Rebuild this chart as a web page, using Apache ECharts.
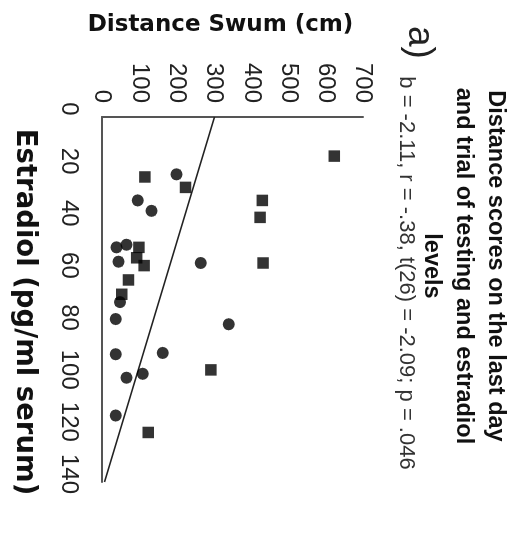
<!DOCTYPE html>
<html>
<head>
<meta charset="utf-8">
<script src="https://cdn.jsdelivr.net/npm/echarts@6/dist/echarts.min.js"></script>
<style>
  html, body { margin: 0; padding: 0; width: 517px; height: 536px; overflow: hidden; background: #fff; }
  /* The figure is laid out upright, then turned a quarter turn clockwise onto the page */
  #chart {
    position: absolute; left: 0; top: 0;
    width: 536px; height: 517px;
    transform-origin: 0 0;
    transform: translate(517px, 0) rotate(90deg);
  }
</style>
</head>
<body>
<div id="chart"></div>
<script>
// Axis ticks
const estradiolTicks = [0, 20, 40, 60, 80, 100, 120, 140];
const distanceTicks = [0, 100, 200, 300, 400, 500, 600, 700];

// Subjects drawn with round markers
const circleEstradiol = [22, 32, 36, 50, 49, 55.5, 71, 56, 77.5, 79.5, 91, 90.5, 100, 98.5, 114.5];
const circleDistance  = [200, 96, 133, 39, 66, 44, 48, 265, 37, 340, 37, 163, 66, 109, 37];

// Subjects drawn with square markers
const squareEstradiol = [15, 23, 27, 32, 38.5, 50, 54, 57, 56, 62.5, 68, 97, 121];
const squareDistance  = [623, 115, 224, 430, 424, 99, 93, 113, 432, 71, 53, 292, 124];

// Least-squares fit
const slope = -2.11;
const intercept = 302;

const statsText = 'b = -2.11, r = -.38, t(26) = -2.09; p = .046';
const titleText = 'Distance scores on the last day\nand trial of testing and estradiol\nlevels';
const panelText = 'a)';

const zip = (xs, ys) => xs.map((x, i) => [x, ys[i]]);
const xMin = estradiolTicks[0], xMax = estradiolTicks[estradiolTicks.length - 1];
const yMin = distanceTicks[0], yMax = distanceTicks[distanceTicks.length - 1];

const chart = echarts.init(document.getElementById('chart'), null, { renderer: 'canvas' });

const labelFont = 'Liberation Sans, Arial, sans-serif';
const nameFont = 'DejaVu Sans, Verdana, sans-serif';

chart.setOption({
  animation: false,
  backgroundColor: '#fff',
  graphic: [
    {
      type: 'text', x: 266, y: 6, silent: true,
      style: {
        text: titleText, align: 'center', verticalAlign: 'top',
        fontFamily: labelFont, fontWeight: 'bold', fontSize: 23.5, lineHeight: 32, fill: '#111'
      }
    },
    {
      type: 'text', x: 273, y: 111, silent: true,
      style: {
        text: statsText, align: 'center', verticalAlign: 'middle',
        fontFamily: labelFont, fontSize: 22, lineHeight: 24, fill: '#333'
      }
    },
    {
      type: 'text', x: 26, y: 79, silent: true,
      style: {
        text: panelText, align: 'left', verticalAlign: 'top',
        fontFamily: labelFont, fontSize: 37, lineHeight: 37, fill: '#222'
      }
    }
  ],
  grid: { left: 117, right: 54, top: 154, bottom: 102, containLabel: false },
  xAxis: {
    type: 'value',
    min: xMin,
    max: xMax,
    interval: estradiolTicks[1] - estradiolTicks[0],
    name: 'Estradiol (pg/ml serum)',
    nameLocation: 'middle',
    nameGap: 64,
    nameTextStyle: { fontFamily: nameFont, fontWeight: 'bold', fontSize: 27.5, color: '#111', padding: [0, 0, 0, 25] },
    axisLine: { show: true, onZero: false, lineStyle: { color: '#555', width: 2 } },
    axisTick: { show: false },
    splitLine: { show: false },
    axisLabel: { fontFamily: labelFont, fontSize: 24, color: '#222', margin: 21, padding: [0, 16, 0, 0] }
  },
  yAxis: {
    type: 'value',
    min: yMin,
    max: yMax,
    interval: distanceTicks[1] - distanceTicks[0],
    name: 'Distance Swum (cm)',
    nameLocation: 'middle',
    nameRotate: 90,
    nameGap: 80,
    nameTextStyle: { fontFamily: nameFont, fontWeight: 'bold', fontSize: 23, color: '#111', padding: [0, 24, 0, 0] },
    axisLine: { show: true, onZero: false, lineStyle: { color: '#555', width: 2 } },
    axisTick: { show: false },
    splitLine: { show: false },
    axisLabel: { fontFamily: labelFont, fontSize: 24, color: '#222', margin: 14, padding: [12, 0, 0, 0] }
  },
  series: [
    {
      type: 'line',
      data: [[xMin, intercept + slope * xMin], [xMax, intercept + slope * xMax]],
      showSymbol: false,
      symbol: 'none',
      silent: true,
      lineStyle: { color: '#222', width: 1.6 },
      z: 1
    },
    {
      type: 'scatter',
      data: zip(circleEstradiol, circleDistance),
      symbol: 'circle',
      symbolSize: 12,
      itemStyle: { color: '#000' },
      z: 2
    },
    {
      type: 'scatter',
      data: zip(squareEstradiol, squareDistance),
      symbol: 'rect',
      symbolSize: 11.5,
      itemStyle: { color: '#000' },
      z: 2
    }
  ]
});
</script>
</body>
</html>
